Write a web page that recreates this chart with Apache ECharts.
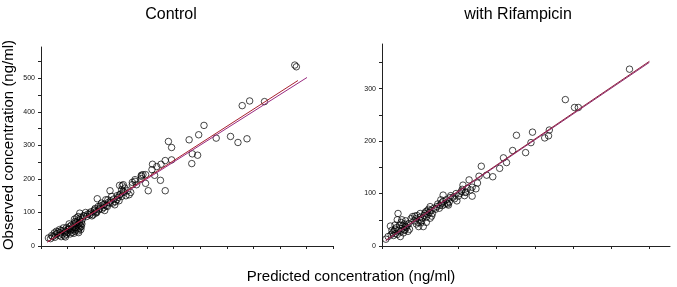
<!DOCTYPE html>
<html><head><meta charset="utf-8">
<script src="https://cdn.jsdelivr.net/npm/echarts@6/dist/echarts.min.js"></script>
<style>html,body{margin:0;padding:0;background:#fff}#c{width:677px;height:287px}</style>
</head><body><div id="c"></div>
<script>
// ---- data ----
const titles = ["Control", "with Rifampicin"];
const yAxisTitle = "Observed concentration (ng/ml)";
const xAxisTitle = "Predicted concentration (ng/ml)";

const controlPoints = [
[478,540],[481,535],[421,431],[393,433],[379,419],[388,320],[371,309],[357,327],[330,322],[307,360],
[297,332],[295,271],[285,275],[284,246],[279,317],[246,294],[240,312],[246,257],[234,255],[234,165],
[225,196],[226,244],[218,237],[210,244],[209,228],[214,211],[202,165],[197,187],[197,213],[189,211],
[189,201],[177,193],[172,183],[180,183],[166,153],[169,160],[155,183],[148,181],[152,168],[152,148],
[143,138],[139,123],[143,150],[130,165],[133,148],[130,128],[122,138],[123,120],[120,106],[114,128],
[111,113],[106,141],[108,118],[103,98],[101,108],[98,93],[92,98],[84,100],[81,90],[73,98],
[14,24],[20,31],[25,39],[29,44],[35,49],[42,54],[45,39],[46,27],[51,49],[54,58],[60,57],[64,73],
[67,84],[70,88],[73,78],[70,64],[73,54],[76,58],[75,49],[64,44],[57,49],[92,93],[104,103],
[117,123],[126,138],[148,153],[153,180],[155,163],[158,173],[172,190],[177,198],[189,208],[192,213],
[18,22],[22,28],[27,33],[30,37],[32,42],[36,40],[38,46],[40,35],[43,47],[47,44],[48,55],[50,40],
[52,52],[55,45],[57,62],[60,50],[62,66],[63,80],[65,55],[66,70],[68,60],[69,75],[70,45],[71,52],
[72,68],[74,62],[75,85],[76,72],[77,66],[78,80],[80,90],[58,40],[44,30],[38,28],[34,32],[26,26],
[48,35],[66,49],[71,40],[62,38],[55,36],[53,66],
[86,88],[88,95],[94,102],[96,90],[100,105],[102,112],[105,100],[109,108],[112,120],[115,110],
[118,115],[120,125],[125,118],[127,130],[131,135],[135,128],[137,140],[140,132],[145,145],[147,135],
[150,155],[156,160],[160,150],[163,165]
];
const rifampicinPoints = [
[324,337],[240,279],[252,264],[257,264],[219,221],[218,210],[213,206],[197,217],[195,197],[188,178],
[176,211],[171,182],[163,159],[159,168],[154,148],[145,132],[137,135],[130,152],[127,133],[123,109],
[116,107],[114,126],[109,102],[106,116],[104,104],[98,86],[93,93],[88,84],[80,97],[77,88],
[72,75],[68,72],[63,75],[59,67],[63,53],[56,62],[53,53],[50,55],[54,37],[48,37],[40,56],[31,37],
[29,31],[21,62],[20,50],[11,38],[5,13],
[8,18],[12,22],[14,25],[15,20],[16,28],[17,32],[18,24],[19,35],[20,22],[22,30],[23,40],[24,27],
[25,45],[26,33],[27,38],[28,25],[29,42],[30,30],[31,48],[32,35],[33,40],[34,28],[35,43],[36,32],
[17,40],[13,30],[24,18],[26,50],
[42,48],[44,52],[45,42],[46,58],[47,45],[49,50],[50,62],[51,44],[52,48],[55,58],[57,65],[58,55],
[60,60],[61,70],[62,64],[64,68],[65,57],[66,62],[58,45],[43,57],[38,52],
[70,70],[73,80],[75,72],[76,78],[78,82],[79,77],[80,85],[82,80],[84,88],[85,82],[86,80],[87,78],
[89,92],[90,96],[95,90],[97,100],[100,95],[102,100],[105,108],[108,96],[110,103],[112,110],[118,112],
[125,120],[118,95]
];
// fitted / reference lines (endpoints)
const controlRedLine = [[12,12],[484,494]];
const controlPurpleLine = [[12,12],[501,503]];
const rifRedLine = [[5,11],[350,352]];
const rifPurpleLine = [[5,10],[350,350]];

// axis ranges and ticks
const controlXMax = 550, controlYMax = 594;
const rifXMax = 377, rifYMax = 385;
const controlXTicks = [0,50,100,150,200,250,300,350,400,450,500,550];
const controlYTicks = [0,50,100,150,200,250,300,350,400,450,500,550];
const controlYLabels = [0,100,200,300,400,500];
const rifXTicks = [0,50,100,150,200,250,300,350];
const rifYTicks = [0,50,100,150,200,250,300,350];
const rifYLabels = [0,100,200,300];

// ---- chart ----
const FONT = "'Liberation Sans', Arial, sans-serif";
const axisColor = '#222';
function xAx(gi, max, ticks){
  return {type:'value', gridIndex:gi, min:0, max:max, splitLine:{show:false},
    axisLine:{lineStyle:{color:axisColor,width:1}},
    axisTick:{customValues:ticks, length:3, lineStyle:{color:axisColor}},
    axisLabel:{show:false}};
}
function yAx(gi, max, ticks, labels){
  return {type:'value', gridIndex:gi, min:0, max:max, splitLine:{show:false},
    axisLine:{lineStyle:{color:axisColor,width:1}},
    axisTick:{customValues:ticks, length:3, lineStyle:{color:axisColor}},
    axisLabel:{customValues:labels, fontSize:7, color:'#111', margin:6, fontFamily:FONT}};
}
const scatterStyle = {color:'rgba(0,0,0,0)', borderColor:'#000', borderWidth:0.9};
function lineSeries(gi, data, color){
  return {type:'line', xAxisIndex:gi, yAxisIndex:gi, data:data, symbol:'none',
    lineStyle:{color:color, width:1}, z:3, silent:true};
}
const chart = echarts.init(document.getElementById('c'), null, {renderer:'canvas'});
chart.setOption({
  animation:false,
  backgroundColor:'#fff',
  title:[
    {text:titles[0], left:166, top:2, textAlign:'center', textStyle:{fontSize:16, fontWeight:'normal', color:'#000', fontFamily:FONT}},
    {text:titles[1], left:513, top:2, textAlign:'center', textStyle:{fontSize:16, fontWeight:'normal', color:'#000', fontFamily:FONT}}
  ],
  grid:[
    {left:41, top:47, width:292, height:199},
    {left:382, top:44, width:288, height:202}
  ],
  xAxis:[xAx(0, controlXMax, controlXTicks), xAx(1, rifXMax, rifXTicks)],
  yAxis:[yAx(0, controlYMax, controlYTicks, controlYLabels), yAx(1, rifYMax, rifYTicks, rifYLabels)],
  series:[
    {type:'scatter', xAxisIndex:0, yAxisIndex:0, data:controlPoints, symbol:'circle', symbolSize:6.5, itemStyle:scatterStyle, z:2},
    lineSeries(0, controlPurpleLine, '#9a2a80'),
    lineSeries(0, controlRedLine, '#a8202e'),
    {type:'scatter', xAxisIndex:1, yAxisIndex:1, data:rifampicinPoints, symbol:'circle', symbolSize:6.5, itemStyle:scatterStyle, z:2},
    lineSeries(1, rifPurpleLine, '#8e2a6e'),
    lineSeries(1, rifRedLine, '#8e2040')
  ],
  graphic:[
    {type:'text', x:9, y:145, rotation:Math.PI/2, style:{text:yAxisTitle, fontSize:15, fontFamily:FONT, fill:'#000', align:'center', verticalAlign:'middle'}},
    {type:'text', x:351, y:277, style:{text:xAxisTitle, fontSize:15, fontFamily:FONT, fill:'#000', align:'center', verticalAlign:'middle'}}
  ]
});
</script></body></html>
